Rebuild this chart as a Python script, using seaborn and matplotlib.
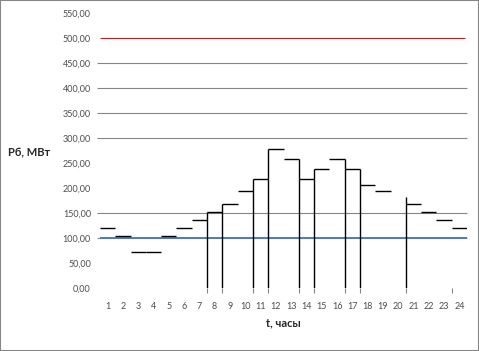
import numpy as np
import pandas as pd
import matplotlib.pyplot as plt
import seaborn as sns
from matplotlib.patches import Rectangle

### hourly base load, MW (hour 20 has no step drawn)
hours = list(range(1, 25))
load = [120, 104, 72, 72, 104, 120, 136, 152, 168, 194, 218, 278,
        258, 218, 238, 258, 238, 206, 194, np.nan, 168, 152, 136, 120]

### vertical drop lines between hours and their tops
drop_x = [7.5, 8.5, 10.5, 11.5, 13.5, 14.5, 16.5, 17.5, 20.5]
drop_top = [152, 168, 218, 278, 258, 238, 258, 238, 182]
tick_x = drop_x + [23.5]

y_ticks = list(range(0, 551, 50))
grid_gray = [150, 300, 350, 400, 450]
base_level = 100
limit_level = 500

sns.set_style("white")
plt.rcParams['font.family'] = ['Lato', 'DejaVu Sans']

df = pd.DataFrame({'hour': np.repeat(hours, 2), 'P': np.repeat(load, 2)})
df['t'] = df['hour'] + np.tile([-0.5, 0.5], len(hours))
df = df.dropna()

fig = plt.figure(figsize=(4.79, 3.51), dpi=100)
ax = fig.add_axes([100 / 479, 1 - 288 / 351, 367 / 479, 275 / 351])

## grid lines (only some levels are visible in the original)
ax.hlines(grid_gray + [base_level], 0.3, 24.5, color='#868686', lw=0.8,
          clip_on=False, zorder=1)
ax.hlines(base_level, 0.5, 24.5, color='#4a7ebb', lw=1.4, zorder=2)
ax.hlines(limit_level, 0.5, 24.4, color='red', lw=0.8, zorder=2)

## steps
sns.lineplot(data=df, x='t', y='P', units='hour', estimator=None,
             color='black', lw=1.0, legend=False, ax=ax, zorder=3,
             solid_capstyle='butt')
ax.vlines(drop_x, 0, drop_top, color='black', lw=1.0, zorder=3)
ax.vlines(tick_x, -10, 0, color='#868686', lw=0.8, clip_on=False)

ax.set_xlim(0.5, 24.5)
ax.set_ylim(0, 550)
ax.set_xticks(hours)
ax.set_xticklabels([str(h) for h in hours])
ax.set_yticks(y_ticks)
ax.set_yticklabels([f'{v:.2f}'.replace('.', ',') for v in y_ticks])
ax.tick_params(axis='y', length=0, pad=6.5, labelsize=6.5, labelcolor='#4d4d4d')
ax.tick_params(axis='x', length=0, pad=10, labelsize=6.5, labelcolor='#4d4d4d')
ax.set_xlabel('')
ax.set_ylabel('')
for s in ax.spines.values():
    s.set_visible(False)

fig.text(29 / 479, 1 - 153 / 351, 'Рб, МВт', ha='center', va='center',
         fontsize=8, fontweight='bold', color='#262626')
fig.text(283 / 479, 1 - 323 / 351, 't, часы', ha='center', va='center',
         fontsize=8, fontweight='bold', color='#262626')

fig.add_artist(Rectangle((0, 0), 1, 1, transform=fig.transFigure, fill=False,
                         edgecolor='#868686', lw=1.5))

fig.savefig('out.png', dpi=100)
